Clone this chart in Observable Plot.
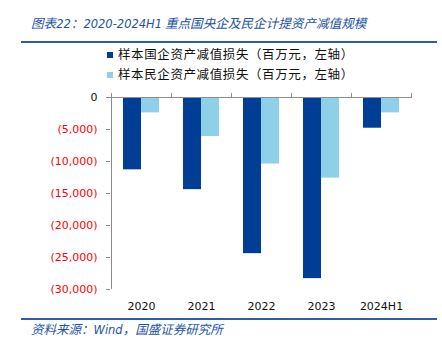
<!DOCTYPE html>
<html>
<head>
<meta charset="utf-8">
<script src="https://cdn.jsdelivr.net/npm/d3@7"></script>
<script src="https://cdn.jsdelivr.net/npm/@observablehq/plot@0.6"></script>
<style>
  html, body { margin: 0; padding: 0; background: #fff; }
  #wrap { position: relative; width: 442px; height: 340px; overflow: hidden; font-family: "Noto Sans CJK SC", "DejaVu Sans", sans-serif; }
  #chart { position: absolute; left: 0; top: 0; }
  .title { position: absolute; left: 31px; top: 14px; font-size: 12.6px; font-style: italic; color: #2354a3; white-space: nowrap; line-height: 18px; }
  .title .lat { font-family: "DejaVu Sans", sans-serif; font-size: 11.5px; }
  .rule { position: absolute; left: 21px; width: 416px; height: 2px; background: #2f5ea8; }
  .source { position: absolute; left: 31px; top: 320px; font-size: 12.5px; font-style: italic; color: #2354a3; white-space: nowrap; line-height: 18px; }
  .source .lat { font-family: "DejaVu Sans", sans-serif; font-size: 11.5px; }
  .legend { position: absolute; left: 107px; font-size: 12.5px; letter-spacing: 0.6px; color: #111; white-space: nowrap; line-height: 16px; }
  .legend .sw { display: inline-block; width: 6px; height: 6px; margin-right: 5px; vertical-align: 1px; }
</style>
</head>
<body>
<div id="wrap">
  <div id="chart"></div>
  <div class="title">图表<span class="lat">22</span>：<span class="lat">2020-2024H1</span> 重点国央企及民企计提资产减值规模</div>
  <div class="rule" style="top:41px"></div>
  <div class="legend" id="leg0" style="top:46px"></div>
  <div class="legend" id="leg1" style="top:66px"></div>
  <div class="rule" style="top:318px"></div>
  <div class="source">资料来源：<span class="lat">Wind</span>，国盛证券研究所</div>
</div>
<script>
const years = ["2020", "2021", "2022", "2023", "2024H1"];
const seriesNames = ["样本国企资产减值损失（百万元，左轴）", "样本民企资产减值损失（百万元，左轴）"];
const soeLoss = [-11300, -14400, -24400, -28300, -4800];
const privateLoss = [-2400, -6100, -10400, -12600, -2400];
const yTicks = [0, -5000, -10000, -15000, -20000, -25000, -30000];
const colors = ["#003e96", "#8ed0e8"];

const soeData = years.map((y, i) => ({year: y, value: soeLoss[i]}));
const privData = years.map((y, i) => ({year: y, value: privateLoss[i]}));

const fmt = d => d < 0 ? "(" + d3.format(",")(-d) + ")" : "0";
const blank = () => "";

const chart = Plot.plot({
  width: 442,
  height: 340,
  marginTop: 97,
  marginBottom: 51,
  marginLeft: 110,
  marginRight: 31,
  style: {fontFamily: "'DejaVu Sans', sans-serif", fontSize: "11px", background: "transparent"},
  x: {type: "band", domain: years, paddingInner: 0.4, paddingOuter: 0.2, axis: null},
  y: {domain: [-30000, 0], axis: null},
  marks: [
    Plot.barY(soeData, {x: "year", y: "value", fill: colors[0], insetRight: 18}),
    Plot.barY(privData, {x: "year", y: "value", fill: colors[1], insetLeft: 18}),
    Plot.ruleY([0], {stroke: "#8c8c8c"}),
    Plot.ruleX([years[0]], {stroke: "#8c8c8c", dx: -30}),
    Plot.axisX({anchor: "top", tickSize: 5, tickFormat: blank, stroke: "#8c8c8c", dx: -30, label: null}),
    Plot.axisX({anchor: "top", ticks: [years[years.length - 1]], tickSize: 5, tickFormat: blank, stroke: "#8c8c8c", dx: 30, label: null}),
    Plot.axisX({anchor: "bottom", tickSize: 0, tickPadding: 13, fill: "#111", fontSize: 11, label: null}),
    Plot.axisY({ticks: yTicks.filter(d => d < 0), tickSize: 4, tickPadding: 9, tickFormat: fmt, stroke: "#8c8c8c", fill: "#ff0000", fontSize: 11, label: null}),
    Plot.axisY({ticks: [0], tickSize: 4, tickPadding: 9, tickFormat: fmt, stroke: "#8c8c8c", fill: "#111", fontSize: 11, label: null})
  ]
});
document.getElementById("chart").appendChild(chart);

seriesNames.forEach((name, i) => {
  const el = document.getElementById("leg" + i);
  const sw = document.createElement("span");
  sw.className = "sw";
  sw.style.background = colors[i];
  el.appendChild(sw);
  el.appendChild(document.createTextNode(name));
});
</script>
</body>
</html>
